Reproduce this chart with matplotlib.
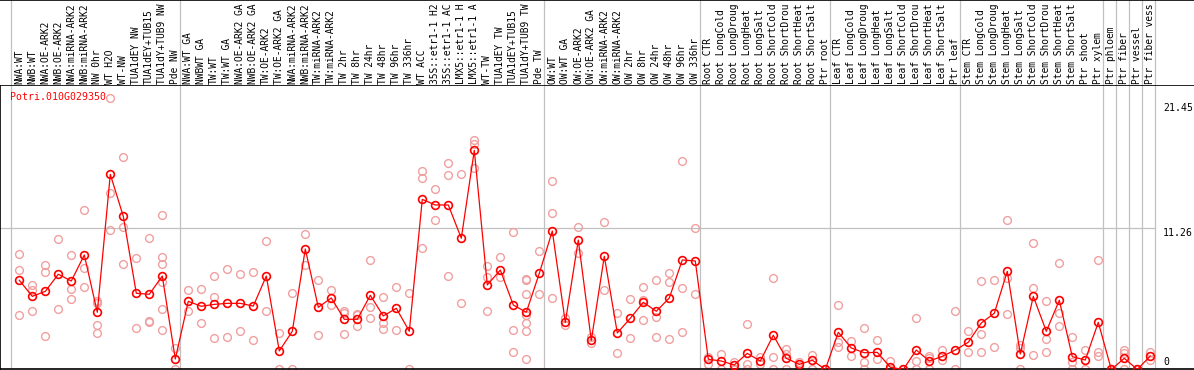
import numpy as np
import matplotlib
matplotlib.use("Agg")
import matplotlib.pyplot as plt
import matplotlib.transforms as mtransforms

# sample labels, one per column (as far as the header shows them)
labels = [
    "NWA:WT", "NWB:WT", "NWA:OE-ARK2", "NWB:OE-ARK2", "NWA:miRNA-ARK2", "NWB:miRNA-ARK2",
    "NW 0hr", "WT H2O", "WT-NW", "TUA1dEY NW", "TUA1dEY+TUB15", "TUA1dY+TUB9 NW", "Pde NW",
    "NWA:WT GA", "NWBWT GA", "TW:WT", "TW:WT GA", "NWA:OE-ARK2 GA", "NWB:OE-ARK2 GA",
    "TW:OE-ARK2", "TW:OE-ARK2 GA", "NWA:miRNA-ARK2", "NWB:miRNA-ARK2", "TW:miRNA-ARK2",
    "TW:miRNA-ARK2", "TW 2hr", "TW 8hr", "TW 24hr", "TW 48hr", "TW 96hr", "TW 336hr",
    "WT ACC", "35S::etr1-1 H2", "35S::etr1-1 AC", "LMX5::etr1-1 H", "LMX5::etr1-1 A",
    "WT-TW", "TUA1dEY TW", "TUA1dEY+TUB15", "TUA1dY+TUB9 TW", "Pde TW",
    "OW:WT", "OW:WT GA", "OW:OE-ARK2", "OW:OE-ARK2 GA", "OW:miRNA-ARK2", "OW:miRNA-ARK2",
    "OW 2hr", "OW 8hr", "OW 24hr", "OW 48hr", "OW 96hr", "OW 336hr",
    "Root CTR", "Root LongCold", "Root LongDroug", "Root LongHeat", "Root LongSalt",
    "Root ShortCold", "Root ShortDrou", "Root ShortHeat", "Root ShortSalt", "Ptr root",
    "Leaf CTR", "Leaf LongCold", "Leaf LongDroug", "Leaf LongHeat", "Leaf LongSalt",
    "Leaf ShortCold", "Leaf ShortDrou", "Leaf ShortHeat", "Leaf ShortSalt", "Ptr leaf",
    "Stem CTR", "Stem LongCold", "Stem LongDroug", "Stem LongHeat", "Stem LongSalt",
    "Stem ShortCold", "Stem ShortDrou", "Stem ShortHeat", "Stem ShortSalt",
    "Ptr shoot", "Ptr xylem",
    "Ptr phloem", "Ptr fiber", "Ptr vessel", "Ptr fiber vess",
]
group_sizes = [13, 28, 12, 10, 10, 11, 1, 1, 1, 1]

# mean expression per sample
means = [
    7.19, 5.93, 6.32, 7.66, 7.13, 9.17, 4.68, 15.49, 12.20, 6.17, 6.09, 7.52, 1.02,
    5.54, 5.15, 5.30, 5.38, 5.38, 5.17, 7.52, 1.65, 3.19, 9.64, 5.07, 5.80, 4.13, 4.13,
    6.01, 4.39, 4.99, 3.19, 13.53, 13.09, 13.09, 10.48, 17.37, 6.82, 7.99, 5.25, 4.68, 7.73,
    11.05, 3.89, 10.34, 2.48, 9.07, 3.06, 4.21, 5.46, 4.76, 5.80, 8.78, 8.70,
    1.00, 0.86, 0.55, 1.46, 0.86, 2.88, 1.07, 0.60, 0.92, 0.20,
    3.11, 1.88, 1.51, 1.54, 0.37, 0.20, 1.72, 0.86, 1.23, 1.72,
    2.33, 3.84, 4.60, 7.89, 1.41, 5.93, 3.19, 5.62, 1.20, 0.94, 3.89,
    0.20, 1.07, 0.20, 1.25,
]

# individual replicates per sample
replicates = [
    [9.22, 7.97, 4.47], [6.82, 6.40, 4.78], [8.36, 7.84, 2.82], [10.42, 4.94],
    [9.17, 6.48, 5.72], [12.67, 8.15, 6.66], [5.56, 5.41, 3.68, 3.03], [21.45, 14.03, 11.10],
    [16.85, 11.34, 8.46], [8.93, 3.45], [10.50, 4.00, 3.89],
    [12.28, 9.01, 8.44, 7.08, 4.94, 3.27], [1.86, 0.2],
    [6.40, 4.76], [6.50, 3.81], [7.52, 5.88, 2.66], [8.07, 2.72], [7.66, 3.19],
    [7.81, 2.48], [10.24, 4.76], [3.06, 0.2], [6.17, 0.2], [10.82, 8.39], [7.21, 2.90],
    [6.43, 5.25], [4.81, 4.62, 2.98], [4.57, 4.44, 3.61], [8.78, 5.07, 4.23],
    [5.85, 3.84, 3.35], [6.66, 3.27], [6.17, 0.2], [15.73, 15.18, 9.69], [14.32, 11.89],
    [16.36, 15.42, 7.50], [15.49, 5.38], [18.21, 17.89, 16.01], [8.28, 7.45, 4.76],
    [8.99, 7.47], [10.97, 3.27, 1.57], [7.31, 7.21, 6.09, 4.47, 3.84, 3.19, 1.00],
    [9.48, 6.09],
    [14.94, 12.44, 5.80], [4.26, 3.68], [11.34, 9.33], [2.74, 2.25], [11.76, 6.43],
    [4.60, 1.49], [5.72, 2.66], [6.66, 5.64, 4.05], [7.21, 4.28, 2.72],
    [7.76, 7.05, 2.56], [16.51, 6.56, 3.13], [11.26, 6.09],
    [1.20, 0.60], [1.43, 0.2], [0.76, 0.2], [3.76, 0.60, 0.2], [1.20, 0.60],
    [7.37, 1.15, 0.2], [1.80, 1.43, 0.2], [0.76, 0.45], [1.36, 0.2], [0.2],
    [5.25, 2.33, 1.96], [2.43, 1.25], [3.47, 0.78, 0.2], [2.48, 1.04], [0.86, 0.2],
    [0.2], [4.23, 0.86, 0.2], [1.28, 1.07, 0.2], [1.72, 0.92], [4.76, 0.2],
    [3.19, 1.54], [7.11, 2.98, 1.54], [7.21, 1.93], [11.89, 7.34, 4.52],
    [2.09, 1.86, 0.2], [10.09, 6.58, 1.31], [5.54, 2.56, 1.54], [8.52, 4.60, 3.61],
    [2.72, 0.81, 0.2], [1.70, 0.2], [8.78, 1.57, 1.25],
    [0.2], [1.72, 1.51, 0.2], [0.2], [1.59, 0.92],
]

gene = "Potri.010G029350"
ytick_values = [0, 11.26, 21.45]
ytick_labels = ["0", "11.26", "21.45"]

W, H = 1194, 370
font = dict(family="DejaVu Sans Mono", size=7.1)
grey = "#c0c0c0"

fig = plt.figure(figsize=(W / 100, H / 100), dpi=100)
# plot area spans pixel rows 85..369, header above
ax = fig.add_axes([0, 1 / H, 1, 284 / H])
hx = fig.add_axes([0, 285 / H, 1, 85 / H])

x = np.arange(len(means))
xlim = (-19.3 / 13, (W - 19.3) / 13)
for a in (ax, hx):
    a.set_xlim(*xlim)
    a.set_xticks([])
    a.set_yticks([])
    a.spines["right"].set_visible(False)
ax.set_ylim(3 / 12.76, 287 / 12.76)
hx.set_ylim(0, 1)
hx.spines["left"].set_visible(False)
hx.spines["bottom"].set_visible(False)
for s in ("left", "bottom", "top"):
    ax.spines[s].set_linewidth(1.2)
hx.spines["top"].set_linewidth(1.2)

# group separators
edges = np.concatenate([[0], np.cumsum(group_sizes)]) - 0.615
for e in edges:
    ax.axvline(e, color=grey, lw=0.9, zorder=0)
    hx.axvline(e, color=grey, lw=0.9, zorder=0)
ax.plot([xlim[0], edges[-1]], [ytick_values[1]] * 2, color=grey, lw=0.9, zorder=0)

# replicate circles
for i, reps in enumerate(replicates):
    ax.plot([i] * len(reps), reps, "o", mfc="none", mec="#f0a0a0", ms=5.6, mew=1.0,
            zorder=2, clip_on=True)

# mean line
ax.plot(x, means, "-o", color="red", lw=0.9, mfc="none", mec="red", ms=5.6, mew=1.2,
        zorder=3)

# sample labels in header
for i, lab in enumerate(labels):
    hx.text(i, 1.5 / 85, lab, rotation=90, ha="center", va="bottom",
            family="DejaVu Sans Mono", size=6.95)

ax.text(10 / W, (369 - 97.3) / 284, gene, transform=ax.transAxes, color="red",
        va="center", ha="left", **font)

# value labels on the right
offsets = [10.3, -4.4, -9.4]
for v, lab, off in zip(ytick_values, ytick_labels, offsets):
    tr = mtransforms.offset_copy(
        mtransforms.blended_transform_factory(ax.transAxes, ax.transData),
        fig=fig, y=off * 0.72, units="points")
    ax.text(1163 / W, v, lab, transform=tr, ha="left", va="center", clip_on=False, **font)

fig.savefig("out.png", dpi=100)
